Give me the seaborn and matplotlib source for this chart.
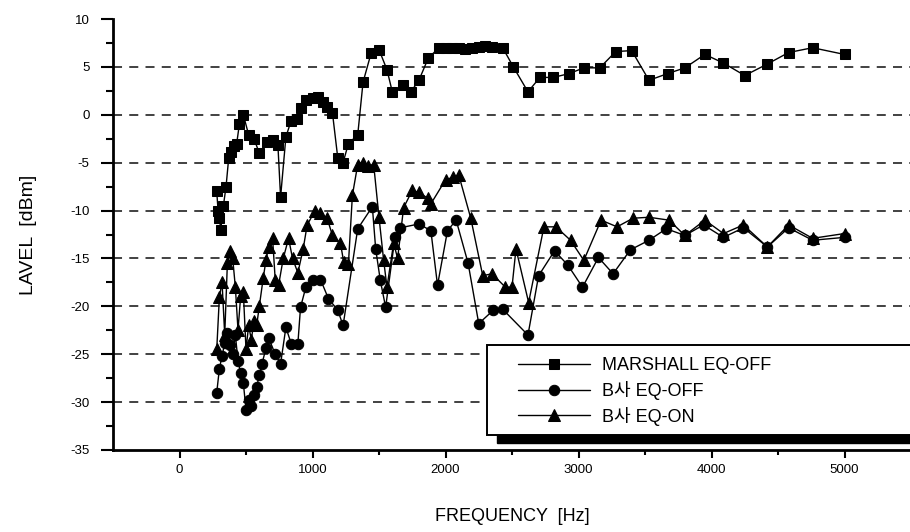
import matplotlib
matplotlib.use("Agg")
import matplotlib.pyplot as plt
from matplotlib.patches import Rectangle
import seaborn as sns
import numpy as np

# ---------------- data ----------------
marshall_x = [280, 290, 300, 310, 330, 350, 370, 390, 410, 430, 450, 480, 520, 560, 600, 660, 700, 740, 760,
              800, 840, 880, 910, 950, 1000, 1040, 1080, 1110, 1150, 1190, 1230, 1270, 1340, 1380, 1440,
              1500, 1560, 1600, 1680, 1740, 1800, 1870, 1950, 2000, 2050, 2100, 2150, 2200, 2250, 2300,
              2350, 2430, 2510, 2620, 2710, 2810, 2930, 3040, 3160, 3280, 3400, 3530, 3670, 3800, 3950,
              4090, 4250, 4420, 4580, 4760, 5000]
marshall_y = [-8.0, -10.0, -10.8, -12.0, -9.5, -7.5, -4.5, -3.9, -3.3, -3.0, -1.0, 0.0, -2.1, -2.5, -4.0, -2.8,
              -2.6, -3.2, -8.6, -2.3, -0.6, -0.4, 0.7, 1.5, 1.8, 1.9, 1.3, 0.8, 0.2, -4.5, -5.0, -3.0, -2.1,
              3.4, 6.4, 6.8, 4.7, 2.4, 3.1, 2.4, 3.6, 5.9, 7.0, 7.0, 7.0, 7.0, 6.9, 7.0, 7.1, 7.2, 7.1, 7.0,
              5.0, 2.4, 3.9, 3.9, 4.3, 4.9, 4.9, 6.6, 6.7, 3.6, 4.3, 4.9, 6.3, 5.4, 4.1, 5.3, 6.5, 7.0, 6.3]

eqoff_x = [280, 300, 320, 340, 360, 380, 400, 420, 440, 460, 480, 500, 520, 540, 560, 580, 600, 620, 650,
           670, 720, 760, 800, 840, 890, 910, 950, 1000, 1060, 1120, 1190, 1230, 1340, 1450, 1475, 1510,
           1550, 1620, 1660, 1800, 1890, 1940, 2015, 2080, 2170, 2250, 2360, 2430, 2620, 2700, 2820, 2920,
           3030, 3150, 3260, 3390, 3530, 3660, 3800, 3940, 4090, 4240, 4420, 4580, 4760, 5000]
eqoff_y = [-29.0, -26.5, -25.2, -23.8, -22.8, -24.0, -25.0, -23.0, -25.7, -27.0, -28.0, -30.8, -29.8, -30.4,
           -29.3, -28.4, -27.2, -26.0, -24.4, -23.3, -25.0, -26.0, -22.2, -23.9, -23.9, -20.1, -18.0, -17.3,
           -17.2, -19.2, -20.4, -22.0, -11.9, -9.6, -14.0, -17.3, -20.1, -12.8, -11.8, -11.4, -12.1, -17.8,
           -12.1, -11.0, -15.5, -21.8, -20.4, -20.3, -23.0, -16.8, -14.2, -15.7, -18.0, -14.9, -16.6, -14.1,
           -13.1, -11.9, -12.6, -11.5, -12.8, -11.8, -13.8, -11.8, -13.1, -12.8]

eqon_x = [280, 300, 320, 340, 360, 380, 400, 420, 440, 460, 480, 500, 520, 540, 560, 580, 600, 630, 650, 670,
          700, 720, 745, 780, 820, 850, 890, 930, 960, 1020, 1060, 1110, 1150, 1210, 1235, 1270, 1300, 1340,
          1380, 1420, 1460, 1500, 1535, 1560, 1610, 1640, 1685, 1750, 1800, 1865, 1890, 2000, 2060, 2100,
          2190, 2280, 2350, 2450, 2500, 2530, 2625, 2740, 2830, 2940, 3040, 3170, 3290, 3410, 3530, 3680,
          3800, 3950, 4090, 4240, 4420, 4580, 4760, 5000]
eqon_y = [-24.5, -19.0, -17.5, -23.0, -15.5, -14.2, -15.0, -18.0, -22.5, -18.9, -18.5, -24.5, -22.0, -23.5,
          -21.5, -22.0, -20.0, -17.0, -15.2, -13.8, -12.9, -17.3, -17.8, -15.0, -12.9, -15.0, -16.5, -14.0,
          -11.5, -10.0, -10.3, -10.8, -12.6, -13.4, -15.4, -15.6, -8.4, -5.2, -5.0, -5.3, -5.2, -10.7, -15.2,
          -18.0, -13.4, -15.0, -9.7, -7.9, -8.1, -8.7, -9.3, -6.8, -6.5, -6.3, -10.8, -16.8, -16.6, -18.0,
          -18.0, -14.0, -19.6, -11.7, -11.7, -13.1, -15.2, -11.0, -11.7, -10.8, -10.7, -11.0, -12.6, -11.0,
          -12.4, -11.5, -13.8, -11.5, -12.9, -12.4]

series_labels = ["MARSHALL EQ-OFF", "B사 EQ-OFF", "B사 EQ-ON"]
x_ticks = [0, 1000, 2000, 3000, 4000, 5000]
y_ticks = [-35, -30, -25, -20, -15, -10, -5, 0, 5, 10]

# ---------------- style ----------------
sns.set_style("ticks")
plt.rcParams["font.family"] = ["Liberation Sans", "Noto Sans CJK KR", "DejaVu Sans"]
plt.rcParams["axes.unicode_minus"] = False
for k in ["text.color", "axes.labelcolor", "xtick.color", "ytick.color"]:
    plt.rcParams[k] = "black"

W, H = 910, 532
AX_L, AX_R, AX_T, AX_B = 113, 911, 19, 450
fig = plt.figure(figsize=(W / 100, H / 100), dpi=100)
ax = fig.add_axes([AX_L / W, 1 - AX_B / H, (AX_R - AX_L) / W, (AX_B - AX_T) / H])


def ax_x(px):
    return (px - AX_L) / (AX_R - AX_L)


def ax_y(py):
    return 1 - (py - AX_T) / (AX_B - AX_T)


# dashed horizontal grid lines (excluding the top and bottom limits)
for v in y_ticks[1:-1]:
    ax.axhline(v, ls=(0, (5, 4)), color="#333333", lw=1.3, zorder=1)

common = dict(color="black", linewidth=1.0, markeredgecolor="black", estimator=None, ax=ax, zorder=3)
sns.lineplot(x=marshall_x, y=marshall_y, marker="s", markersize=7, label=series_labels[0], **common)
sns.lineplot(x=eqoff_x, y=eqoff_y, marker="o", markersize=7.5, label=series_labels[1], **common)
sns.lineplot(x=eqon_x, y=eqon_y, marker="^", markersize=8.5, label=series_labels[2], **common)

ax.set_xlim(-500, 5500)
ax.set_ylim(-35, 10)
ax.set_xticks(x_ticks)
ax.set_xticks(np.arange(500, 5500, 1000), minor=True)
ax.set_yticks(y_ticks)
ax.set_yticks(np.arange(-32.5, 10, 5), minor=True)
ax.tick_params(axis="y", which="major", direction="out", length=9, width=1.5, labelsize=9.5, pad=8)
ax.tick_params(axis="y", which="minor", direction="out", length=5, width=1.5)
ax.tick_params(axis="x", which="major", direction="out", length=6, width=1.5, labelsize=9.5, pad=4)
ax.tick_params(axis="x", which="minor", direction="out", length=3.5, width=1.5)

for s in ["top", "right"]:
    ax.spines[s].set_visible(False)
for s in ["left", "bottom"]:
    ax.spines[s].set_linewidth(2)
    ax.spines[s].set_color("black")

ax.set_xlabel("FREQUENCY  [Hz]", fontsize=13, labelpad=23)
ax.set_ylabel("LAVEL  [dBm]", fontsize=14, labelpad=24)

# legend frame with solid black drop shadow
shadow = Rectangle((ax_x(497), ax_y(443)), ax_x(960) - ax_x(497), ax_y(355) - ax_y(443),
                   transform=ax.transAxes, facecolor="black", edgecolor="black", clip_on=False, zorder=10)
frame = Rectangle((ax_x(487), ax_y(435)), ax_x(950) - ax_x(487), ax_y(345) - ax_y(435),
                  transform=ax.transAxes, facecolor="white", edgecolor="black", lw=1.4,
                  clip_on=False, zorder=11)
ax.add_patch(shadow)
ax.add_patch(frame)

leg = ax.legend(loc="upper left", bbox_to_anchor=(ax_x(518), ax_y(357)), borderaxespad=0,
                borderpad=0, frameon=False, fontsize=13, handlelength=4.0, handletextpad=0.65,
                labelspacing=0.38, markerscale=1.0)
leg.set_zorder(12)

fig.savefig("out.png", dpi=100)
